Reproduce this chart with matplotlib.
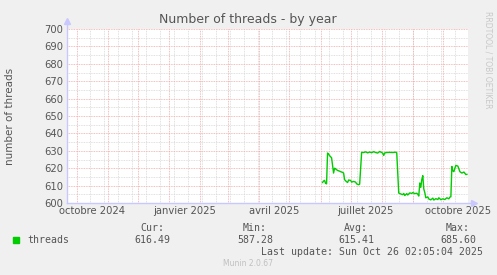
import matplotlib
matplotlib.use("Agg")
import matplotlib.pyplot as plt
import numpy as np
import datetime as dt

# data
dates = ["2025-06-03", "2025-06-04", "2025-06-05", "2025-06-06", "2025-06-07", "2025-06-08",
         "2025-06-09", "2025-06-10", "2025-06-12", "2025-06-14", "2025-06-15", "2025-06-16",
         "2025-06-18", "2025-06-20", "2025-06-21", "2025-06-23", "2025-06-24", "2025-06-25",
         "2025-06-27", "2025-06-28", "2025-06-29", "2025-07-01", "2025-07-02", "2025-07-04",
         "2025-07-06", "2025-07-07", "2025-07-09", "2025-07-10", "2025-07-12", "2025-07-14",
         "2025-07-16", "2025-07-18", "2025-07-20", "2025-07-22", "2025-07-24", "2025-07-26",
         "2025-07-28", "2025-07-30", "2025-08-01", "2025-08-02", "2025-08-03", "2025-08-04",
         "2025-08-06", "2025-08-09", "2025-08-12", "2025-08-15", "2025-08-16", "2025-08-18",
         "2025-08-20", "2025-08-22", "2025-08-23", "2025-08-24", "2025-08-26", "2025-08-27",
         "2025-08-29", "2025-08-31", "2025-09-01", "2025-09-03", "2025-09-05", "2025-09-06",
         "2025-09-07", "2025-09-08", "2025-09-09", "2025-09-10", "2025-09-11", "2025-09-12",
         "2025-09-13", "2025-09-14", "2025-09-16", "2025-09-17", "2025-09-19", "2025-09-21",
         "2025-09-22", "2025-09-24", "2025-09-26", "2025-09-27", "2025-09-29", "2025-10-01",
         "2025-10-03", "2025-10-05", "2025-10-07", "2025-10-08", "2025-10-09", "2025-10-10",
         "2025-10-11", "2025-10-12", "2025-10-13", "2025-10-14", "2025-10-16", "2025-10-18",
         "2025-10-20", "2025-10-22", "2025-10-24", "2025-10-25"]
threads = [611.8, 612.6, 613.0, 611.3, 611.0, 628.7,
           628.2, 627.2, 626.0, 617.2, 620.0, 619.6,
           618.7, 618.3, 618.0, 617.6, 617.2, 613.4,
           612.2, 611.8, 613.2, 613.0, 612.0, 612.4,
           612.0, 611.0, 610.5, 610.8, 629.1, 629.0,
           629.4, 628.8, 629.3, 628.9, 629.5, 629.0,
           628.7, 629.6, 629.0, 628.6, 627.3, 628.8,
           629.0, 629.1, 629.0, 629.2, 628.9, 605.7,
           605.2, 604.8, 605.5, 604.3, 605.4, 604.6,
           605.8, 605.5, 606.0, 605.4, 605.6, 605.0,
           604.0, 611.5, 609.0, 613.5, 615.7, 608.0,
           606.0, 603.0, 603.5, 602.3, 601.8, 602.8,
           601.7, 602.5, 602.0, 603.0, 601.9, 602.4,
           602.0, 603.0, 602.4, 603.4, 603.6, 621.0,
           618.5, 618.0, 620.0, 621.6, 621.2, 618.0,
           617.2, 617.8, 616.3, 616.5]

y_ticks = [600, 610, 620, 630, 640, 650, 660, 670, 680, 690, 700]
x_labels = ["octobre 2024", "janvier 2025", "avril 2025", "juillet 2025", "octobre 2025"]
x_label_dates = ["2024-10-16", "2025-01-16", "2025-04-16", "2025-07-16", "2025-10-16"]
stats_head = ["Cur:", "Min:", "Avg:", "Max:"]
stats_vals = ["616.49", "587.28", "615.41", "685.60"]

end = dt.datetime(2025, 10, 26, 2, 5, 4)
start = end - dt.timedelta(days=400)

bg = "#F0F0F0"
txt = "#555555"
fig = plt.figure(figsize=(4.97, 2.75), dpi=100, facecolor=bg)
ax = fig.add_axes([67 / 497, 1 - 203 / 275, 401 / 497, 174 / 275])
ax.set_facecolor("white")

x = [dt.datetime.strptime(d, "%Y-%m-%d") for d in dates]
ax.plot(x, threads, color="#00CC00", lw=1.0, zorder=5)

ax.set_xlim(start, end)
ax.set_ylim(600, 700)

# grid
major = "#F2A8A8"
minor = "#D6D6D6"
for v in np.arange(605, 701, 5):
    if v % 10 == 0:
        ax.axhline(v, color=major, lw=0.6, ls=(0, (1, 1)), zorder=2)
    else:
        ax.axhline(v, color=minor, lw=0.6, ls=(0, (1, 1)), zorder=1)

d = dt.datetime(2024, 10, 14)
while d < end:
    ax.axvline(d, color=minor, lw=0.6, ls=(0, (1, 1)), zorder=1)
    d += dt.timedelta(days=14)
for m in range(13):
    yy = 2024 + (9 + m) // 12
    mm = (9 + m) % 12 + 1
    ax.axvline(dt.datetime(yy, mm, 1), color=major, lw=0.6, ls=(0, (1, 1)), zorder=2)

for s in ax.spines.values():
    s.set_visible(False)
ax.plot([0, 0], [0, 1.04], transform=ax.transAxes, color="#C8C8FF", lw=1, clip_on=False)
ax.plot([0, 1.01], [0, 0], transform=ax.transAxes, color="#C8C8FF", lw=1, clip_on=False)
ax.plot([0], [1.045], marker="^", ms=4, color="#C8C8FF", transform=ax.transAxes, clip_on=False)
ax.plot([1.015], [0], marker=">", ms=4, color="#C8C8FF", transform=ax.transAxes, clip_on=False)

ax.set_yticks(y_ticks)
ax.set_yticklabels([str(v) for v in y_ticks])
ax.set_xticks([dt.datetime.strptime(s, "%Y-%m-%d") for s in x_label_dates])
ax.set_xticklabels(x_labels)
ax.tick_params(axis="both", length=0, labelsize=7.2, colors=txt, pad=3)
ax.tick_params(axis="x", pad=2)

fig.text(248 / 497, 1 - 19 / 275, "Number of threads - by year", ha="center", va="center",
         fontsize=9, color=txt)
fig.text(10 / 497, 1 - 116 / 275, "number of threads", rotation=90, ha="center", va="center",
         fontsize=7.5, color=txt)
fig.text(488 / 497, 1 - 60 / 275, "RRDTOOL / TOBI OETIKER", rotation=270, ha="center", va="center",
         fontsize=5.5, color="#C8C8C8")

# legend area
fig.patches.append(plt.Rectangle((13 / 497, 1 - 243 / 275), 6 / 497, 6 / 275,
                                 transform=fig.transFigure, color="#00CC00"))
mono = "DejaVu Sans Mono"
fig.text(27 / 497, 1 - 240 / 275, "threads", ha="left", va="center", fontsize=7.1, family=mono, color=txt)
cols = [152, 255, 356, 458]
for cx, h, v in zip(cols, stats_head, stats_vals):
    fig.text(cx / 497, 1 - 228 / 275, h, ha="center", va="center", fontsize=7.1, family=mono, color=txt)
    fig.text(cx / 497, 1 - 240 / 275, v, ha="center", va="center", fontsize=7.1, family=mono, color=txt)
fig.text(483 / 497, 1 - 252 / 275, "Last update: Sun Oct 26 02:05:04 2025", ha="right", va="center",
         fontsize=7.1, family=mono, color=txt)
fig.text(248 / 497, 1 - 264 / 275, "Munin 2.0.67", ha="center", va="center", fontsize=5.5, color="#C0C0C0")

fig.savefig("out.png", dpi=100, facecolor=bg)
